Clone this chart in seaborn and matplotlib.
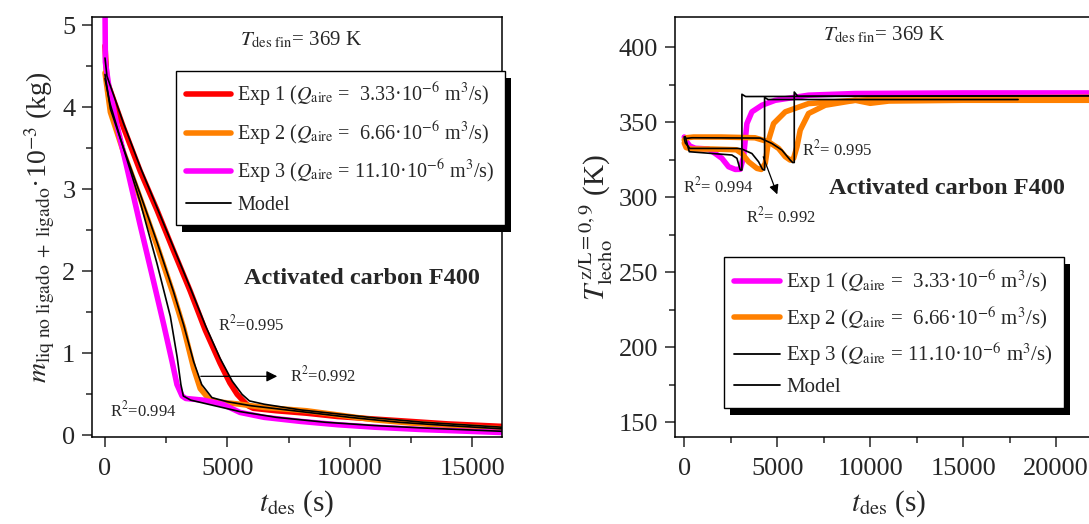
import numpy as np
import pandas as pd
import seaborn as sns
import matplotlib.pyplot as plt
from matplotlib.lines import Line2D
from matplotlib.patches import Rectangle
from matplotlib.transforms import IdentityTransform
from matplotlib.ticker import MultipleLocator

# Left panel: liquid mass (x1e-3 kg) vs desorption time (s) -------------------

t_exp1 = [0, 80, 400, 760, 1440, 2120, 2800, 3480, 4100, 4700, 5100, 5400, 5650, 5850, 6060,
          7000, 8240, 9500, 10960, 12500, 14000, 16200]
m_exp1 = [4.75, 4.32, 4.05, 3.75, 3.22, 2.75, 2.25, 1.76, 1.28, 0.88, 0.64, 0.5, 0.42, 0.36, 0.33,
          0.30, 0.27, 0.23, 0.20, 0.17, 0.14, 0.11]

t_exp2 = [0, 220, 760, 1440, 2120, 2800, 3210, 3620, 3890, 4230, 4570, 5515, 6500, 8240, 9500,
          11000, 12500, 14000, 16200]
m_exp2 = [4.42, 3.94, 3.45, 2.89, 2.32, 1.71, 1.31, 0.82, 0.57, 0.45, 0.41, 0.38, 0.34, 0.30, 0.25,
          0.19, 0.15, 0.12, 0.08]

t_exp3 = [0, 15, 150, 490, 900, 1440, 1990, 2400, 2740, 2940, 3150, 3300, 4000, 4800, 5515, 6500,
          8000, 9500, 11000, 13000, 16200]
m_exp3 = [5.3, 4.55, 4.27, 3.78, 3.26, 2.56, 1.87, 1.35, 0.9, 0.62, 0.48, 0.45, 0.43, 0.38, 0.28, 0.22,
          0.17, 0.13, 0.10, 0.07, 0.035]

t_mod1 = [0, 80, 760, 1440, 2120, 2800, 3480, 4100, 4700, 5200, 5600, 5900, 6500, 8000, 10960, 13000, 16200]
m_mod1 = [4.6, 4.38, 3.8, 3.27, 2.78, 2.29, 1.8, 1.34, 0.94, 0.66, 0.5, 0.42, 0.38, 0.31, 0.215, 0.16, 0.10]

t_mod2 = [0, 220, 760, 1440, 2120, 2800, 3210, 3620, 3950, 4370, 5000, 6000, 8000, 10000, 12000, 14000, 16200]
m_mod2 = [4.4, 3.98, 3.5, 2.94, 2.36, 1.75, 1.35, 0.9, 0.62, 0.46, 0.41, 0.36, 0.29, 0.22, 0.16, 0.12, 0.08]

t_mod3 = [0, 200, 630, 1440, 2120, 2670, 2950, 3100, 3200, 3500, 4500, 5515, 7000, 9000, 11000, 13000, 16200]
m_mod3 = [4.35, 4.05, 3.62, 2.84, 2.1, 1.45, 0.95, 0.62, 0.48, 0.43, 0.36, 0.29, 0.22, 0.16, 0.12, 0.09, 0.05]

# Right panel: bed temperature at z/L=0.9 (K) vs desorption time (s) ----------

t_mag = [0, 54, 300, 591, 1308, 1667, 2025, 2383, 2742, 3010, 3190, 3368, 3637, 4176, 4892, 6684,
         9193, 15000, 22500]
T_mag = [340, 338, 334, 332.5, 332, 329, 325.8, 320.2, 318.4, 318.5, 326.9, 349, 356.8, 361.2, 364.5, 367.9,
         369, 369.4, 369.4]

t_orA = [0, 100, 400, 1500, 2800, 3100, 3457, 3906, 4140, 4354, 4534, 4803, 5432, 6684, 9193, 10000,
         11000, 15000, 22500]
T_orA = [336, 333, 332, 332, 331.5, 329, 323.5, 319.1, 318.4, 322.4, 338, 349, 356.8, 362.3, 364.5, 362.5,
         364, 364.5, 364.5]

t_orB = [0, 100, 500, 2000, 3800, 4534, 5071, 5432, 5700, 5879, 6058, 6235, 6684, 7580, 9193, 12000, 22500]
T_orB = [338, 339.5, 340, 340, 339.5, 336.8, 332.4, 326.9, 324.6, 325.8, 333.5, 344.6, 355.7, 361.2, 364.5,
         366, 366.5]

t_modA = [0, 54, 269, 2563, 2832, 3010, 3100, 3100, 3300, 22500]
T_modA = [340, 340.2, 330.2, 328, 325.8, 318, 318, 368.5, 367, 367.5]

t_modB = [0, 60, 300, 2900, 3100, 3638, 3996, 4211, 4319, 4319, 4500, 17950]
T_modB = [339, 336, 332.4, 332.4, 332, 329, 323.5, 318.4, 318, 366.5, 365, 365]

t_modC = [0, 60, 400, 4086, 4713, 5250, 5700, 5824, 5914, 5914, 6100, 22500]
T_modC = [340, 339, 339.5, 339.3, 335.7, 331.3, 324.6, 323, 323, 370, 367.2, 367.5]

RED, ORANGE, MAGENTA = "#FF0000", "#FF8000", "#FF00FF"

sns.set_style("ticks")
plt.rcParams["font.family"] = ["Liberation Serif", "DejaVu Serif"]
plt.rcParams["mathtext.fontset"] = "stix"

fig = plt.figure(figsize=(10.89, 5.24), dpi=100)
ax1 = fig.add_axes([0.0845, 0.166, 0.3765, 0.8015])
ax2 = fig.add_axes([0.6198, 0.166, 0.3928, 0.8015])


def curve(ax, t, y, color, lw):
    df = pd.DataFrame({"t": t, "y": y})
    sns.lineplot(data=df, x="t", y="y", ax=ax, color=color, lw=lw,
                 estimator=None, sort=False, solid_joinstyle="round")


def style_axis(ax):
    for s in ax.spines.values():
        s.set_linewidth(1.1)
        s.set_color("black")
    ax.tick_params(which="major", direction="out", length=7, width=1.1, labelsize=19, pad=5)
    ax.tick_params(which="minor", direction="out", length=4, width=1.1)
    ax.tick_params(axis="x", which="major", pad=8)


def add_shadow(ax, leg, dx=6, dy=7):
    fig.canvas.draw()
    bb = leg.get_window_extent()
    ax.add_artist(Rectangle((bb.x0 + dx, bb.y0 - dy), bb.width, bb.height,
                            transform=IdentityTransform(), facecolor="black",
                            edgecolor="none", zorder=4.9, clip_on=False))


def lbl(n, q):
    return "Exp %d ($Q_{\\mathrm{aire}}$ = %s·10$^{-6}$ m$^{3}$/s)" % (n, q)


# left panel
for t, m, c in [(t_exp1, m_exp1, RED), (t_exp2, m_exp2, ORANGE), (t_exp3, m_exp3, MAGENTA)]:
    curve(ax1, t, m, c, 4.0)
for t, m in [(t_mod1, m_mod1), (t_mod2, m_mod2), (t_mod3, m_mod3)]:
    curve(ax1, t, m, "black", 1.2)

ax1.set_xlim(-530, 16220)
ax1.set_ylim(-0.02, 5.1)
ax1.xaxis.set_major_locator(MultipleLocator(5000))
ax1.xaxis.set_minor_locator(MultipleLocator(2500))
ax1.yaxis.set_major_locator(MultipleLocator(1))
ax1.yaxis.set_minor_locator(MultipleLocator(0.5))
style_axis(ax1)
ax1.set_xlabel(r"$t_{\mathrm{des}}$ (s)", fontsize=21, labelpad=6)
ax1.set_ylabel(r"$m_{\mathrm{liq\ no\ ligado\ +\ ligado}}$·10$^{-3}$ (kg)", fontsize=20, labelpad=4)

ax1.text(5515, 4.82, r"$T_{\mathrm{des\ fin}}$= 369 K", fontsize=15, va="center")
ax1.text(5678, 1.91, "Activated carbon F400", fontsize=17.5, fontweight="bold", va="center")
ax1.text(4616, 1.35, r"R$^2$=0.995", fontsize=12, va="center")
ax1.text(7557, 0.73, r"R$^2$=0.992", fontsize=12, va="center")
ax1.text(204, 0.30, r"R$^2$=0.994", fontsize=12, va="center")
ax1.annotate("", xy=(7150, 0.72), xytext=(3800, 0.72),
             arrowprops=dict(arrowstyle="-|>", color="black", lw=0.9, mutation_scale=16))

h1 = [Line2D([], [], color=RED, lw=4), Line2D([], [], color=ORANGE, lw=4),
      Line2D([], [], color=MAGENTA, lw=4), Line2D([], [], color="black", lw=1.3)]
leg1 = ax1.legend(h1, [lbl(1, " 3.33"), lbl(2, " 6.66"), lbl(3, "11.10"), "Model"],
                  loc="upper left", bbox_to_anchor=(0.205, 0.871), fontsize=14.5,
                  frameon=True, fancybox=False, edgecolor="black", framealpha=1,
                  handlelength=2.25, handletextpad=0.3, labelspacing=0.5,
                  borderpad=0.5, borderaxespad=0)
leg1.get_frame().set_linewidth(1.0)

# right panel
for t, T, c in [(t_mag, T_mag, MAGENTA), (t_orA, T_orA, ORANGE), (t_orB, T_orB, ORANGE)]:
    curve(ax2, t, T, c, 4.0)
for t, T in [(t_modA, T_modA), (t_modB, T_modB), (t_modC, T_modC)]:
    curve(ax2, t, T, "black", 1.2)

ax2.set_xlim(-500, 22500)
ax2.set_ylim(140, 420)
ax2.xaxis.set_major_locator(MultipleLocator(5000))
ax2.xaxis.set_minor_locator(MultipleLocator(2500))
ax2.yaxis.set_major_locator(MultipleLocator(50))
ax2.yaxis.set_minor_locator(MultipleLocator(25))
style_axis(ax2)
ax2.set_xlabel(r"$t_{\mathrm{des}}$ (s)", fontsize=21, labelpad=6)
ax2.set_ylabel(r"$T^{\,\mathrm{z/L=0,9}}_{\mathrm{lecho}}$ (K)", fontsize=21, labelpad=3)

ax2.text(7473, 407.8, r"$T_{\mathrm{des\ fin}}$= 369 K", fontsize=15, va="center")
ax2.text(7795, 306, "Activated carbon F400", fontsize=17.5, fontweight="bold", va="center")
ax2.text(6344, 332, r"R$^2$= 0.995", fontsize=12, va="center")
ax2.text(-54, 307.4, r"R$^2$= 0.994", fontsize=12, va="center")
ax2.text(3333, 287.4, r"R$^2$= 0.992", fontsize=12, va="center")
ax2.annotate("", xy=(5053, 300), xytext=(4193, 328.6),
             arrowprops=dict(arrowstyle="-|>", color="black", lw=0.9, mutation_scale=14))

h2 = [Line2D([], [], color=MAGENTA, lw=4), Line2D([], [], color=ORANGE, lw=4),
      Line2D([], [], color="black", lw=1.3), Line2D([], [], color="black", lw=1.3)]
leg2 = ax2.legend(h2, [lbl(1, " 3.33"), lbl(2, " 6.66"), lbl(3, "11.10"), "Model"],
                  loc="upper left", bbox_to_anchor=(0.1145, 0.4286), fontsize=15,
                  frameon=True, fancybox=False, edgecolor="black", framealpha=1,
                  handlelength=2.2, handletextpad=0.3, labelspacing=0.45,
                  borderpad=0.5, borderaxespad=0)
leg2.get_frame().set_linewidth(1.0)

add_shadow(ax1, leg1)
add_shadow(ax2, leg2)

fig.savefig("out.png", dpi=100)
